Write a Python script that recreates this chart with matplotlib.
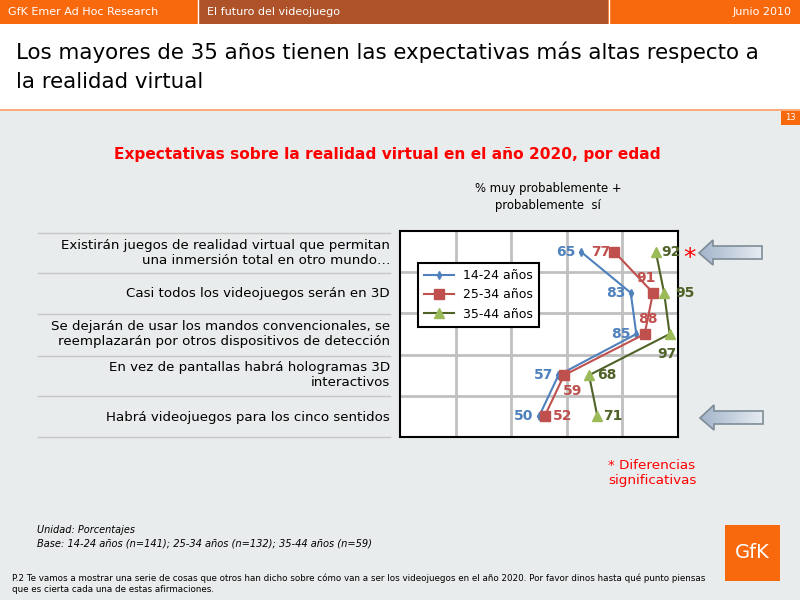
import matplotlib.pyplot as plt
import numpy as np
from matplotlib.colors import LinearSegmentedColormap
from matplotlib.patches import Polygon, Rectangle

# data
statements = [
    "Existirán juegos de realidad virtual que permitan\nuna inmersión total en otro mundo…",
    "Casi todos los videojuegos serán en 3D",
    "Se dejarán de usar los mandos convencionales, se\nreemplazarán por otros dispositivos de detección",
    "En vez de pantallas habrá hologramas 3D\ninteractivos",
    "Habrá videojuegos para los cinco sentidos",
]
age_groups = ["14-24 años", "25-34 años", "35-44 años"]
pct_14_24 = [65, 83, 85, 57, 50]
pct_25_34 = [77, 91, 88, 59, 52]
pct_35_44 = [92, 95, 97, 68, 71]

ORANGE = "#f8690e"
BROWN = "#ae5329"
SLIDE_BG = "#e9ecec"

plt.rcParams["font.family"] = ["DejaVu Sans"]
fig = plt.figure(figsize=(8, 6), dpi=100, facecolor=SLIDE_BG)

# slide furniture, drawn in pixel coordinates
bg = fig.add_axes([0, 0, 1, 1], zorder=0)
bg.axis("off")

bg.add_patch(Rectangle((0, 0), 800, 24, color=ORANGE, lw=0))
bg.add_patch(Rectangle((198, 0), 410, 24, color=BROWN, lw=0))
bg.plot([197.5, 197.5], [0, 24], color="white", lw=1)
bg.plot([608.5, 608.5], [0, 24], color="white", lw=1)
bg.text(8, 12, "GfK Emer Ad Hoc Research", color="white", fontsize=8, va="center")
bg.text(207, 12, "El futuro del videojuego", color="white", fontsize=8, va="center")
bg.text(792, 12, "Junio 2010", color="white", fontsize=8, va="center", ha="right")

bg.add_patch(Rectangle((0, 24), 800, 85, color="white", lw=0))
bg.add_patch(Rectangle((0, 109), 800, 2, color="#fbab7a", lw=0))
bg.text(16, 52, "Los mayores de 35 años tienen las expectativas más altas respecto a",
        fontsize=15.4, va="center", color="black")
bg.text(16, 82, "la realidad virtual", fontsize=15.4, va="center", color="black")

bg.add_patch(Rectangle((781, 111), 19, 14, color=ORANGE, lw=0))
bg.text(790.5, 118, "13", color="white", fontsize=6, ha="center", va="center")

bg.text(387, 155, "Expectativas sobre la realidad virtual en el año 2020, por edad",
        color="#ff0000", fontsize=11.1, fontweight="bold", ha="center", va="center")
bg.text(548, 197, "% muy probablemente +\nprobablemente  sí", fontsize=8.4,
        ha="center", va="center", linespacing=1.45)

# statement labels with separators
for y in [233, 273, 314, 356, 396, 437]:
    bg.plot([38, 390], [y, y], color="#c6c8c8", lw=1)
row_centers = [253, 293, 334, 375, 418]
for txt, yc in zip(statements, row_centers):
    bg.text(390, yc, txt, fontsize=9.6, ha="right", va="center", linespacing=1.2)

# significance marks and note
bg.text(690, 258, "*", color="#ff0000", fontsize=18, ha="center", va="center")
bg.text(638, 424, "*", color="#ff0000", fontsize=18, ha="center", va="center")
bg.text(608, 473, "* Diferencias\nsignificativas", color="#ff0000", fontsize=9.7,
        va="center", linespacing=1.25)


def block_arrow(ax, tip_x, tip_y):
    pts = np.array([
        [tip_x, tip_y], [tip_x + 14, tip_y - 13], [tip_x + 14, tip_y - 7],
        [tip_x + 63, tip_y - 7], [tip_x + 63, tip_y + 6], [tip_x + 14, tip_y + 6],
        [tip_x + 14, tip_y + 12],
    ])
    poly = Polygon(pts, closed=True, facecolor="none", edgecolor="#7d8c96", lw=1.2, zorder=3)
    ax.add_patch(poly)
    grad = np.linspace(0, 1, 64).reshape(1, -1)
    cmap = LinearSegmentedColormap.from_list("arr", ["#a3b4cb", "#e6ebf1"])
    im = ax.imshow(grad, cmap=cmap, extent=(tip_x, tip_x + 63, tip_y + 13, tip_y - 13),
                   aspect="auto", zorder=2)
    im.set_clip_path(poly)


block_arrow(bg, 699, 253)
block_arrow(bg, 700, 418)

# footer
bg.text(37, 530, "Unidad: Porcentajes", fontsize=7, style="italic", va="center")
bg.text(37, 544, "Base: 14-24 años (n=141); 25-34 años (n=132); 35-44 años (n=59)",
        fontsize=7.15, style="italic", va="center")
bg.text(12, 584, "P.2 Te vamos a mostrar una serie de cosas que otros han dicho sobre cómo van a ser "
        "los videojuegos en el año 2020. Por favor dinos hasta qué punto piensas\n"
        "que es cierta cada una de estas afirmaciones.", fontsize=6.35, va="center",
        linespacing=1.3)
bg.add_patch(Rectangle((725, 525), 55, 56, color=ORANGE, lw=0))
bg.text(752, 553, "GfK", color="white", fontsize=14, ha="center", va="center")

bg.set_xlim(0, 800)
bg.set_ylim(600, 0)

# chart
ax = fig.add_axes([400 / 800, 1 - 437 / 600, 278 / 800, 206 / 600], zorder=1)
ax.set_facecolor("white")
rows = np.arange(1, len(statements) + 1)

ax.plot(pct_14_24, rows, color="#4f81bd", lw=1.5, marker="d", ms=4, label=age_groups[0])
ax.plot(pct_25_34, rows, color="#c0504d", lw=1.5, marker="s", ms=6.5, label=age_groups[1])
ax.plot(pct_35_44, rows, color="#4f6228", lw=1.5, marker="^", ms=7,
        mfc="#9bbb59", mec="#9bbb59", label=age_groups[2])

ax.set_xlim(0, 100)
ax.set_ylim(5.5, 0.5)
ax.set_xticks([20, 40, 60, 80])
ax.set_yticks([1.5, 2.5, 3.5, 4.5])
ax.tick_params(length=0, labelbottom=False, labelleft=False)
ax.grid(True, color="#c0c0c0", lw=2)
ax.set_axisbelow(True)
for s in ax.spines.values():
    s.set_linewidth(1.5)
    s.set_color("black")

# label offsets in points: (dx, dy, ha, va)
off_14_24 = [(-4, 0, "right", "center")] * 5
off_25_34 = [(-3, 0, "right", "center"), (-5, 11, "center", "center"),
             (2, 11, "center", "center"), (6, -11.5, "center", "center"),
             (6, 0, "left", "center")]
off_35_44 = [(4, 0, "left", "center"), (8, 0, "left", "center"), (-2, -14.5, "center", "center"),
             (6, 0, "left", "center"), (4, 0, "left", "center")]
for vals, offs, col in [(pct_14_24, off_14_24, "#4f81bd"), (pct_25_34, off_25_34, "#c0504d"),
                        (pct_35_44, off_35_44, "#4f6228")]:
    for v, r, (dx, dy, ha, va) in zip(vals, rows, offs):
        ax.annotate(str(v), (v, r), xytext=(dx, dy), textcoords="offset points",
                    ha=ha, va=va, color=col, fontsize=10, fontweight="bold")

leg = ax.legend(loc="upper left", bbox_to_anchor=(0.065, 0.845), borderaxespad=0,
                fancybox=False, framealpha=1, edgecolor="black", fontsize=9,
                handlelength=2.4, handletextpad=0.7, borderpad=0.5, labelspacing=0.5)
leg.get_frame().set_linewidth(1.5)

fig.savefig("out.png", dpi=100, facecolor=SLIDE_BG)
